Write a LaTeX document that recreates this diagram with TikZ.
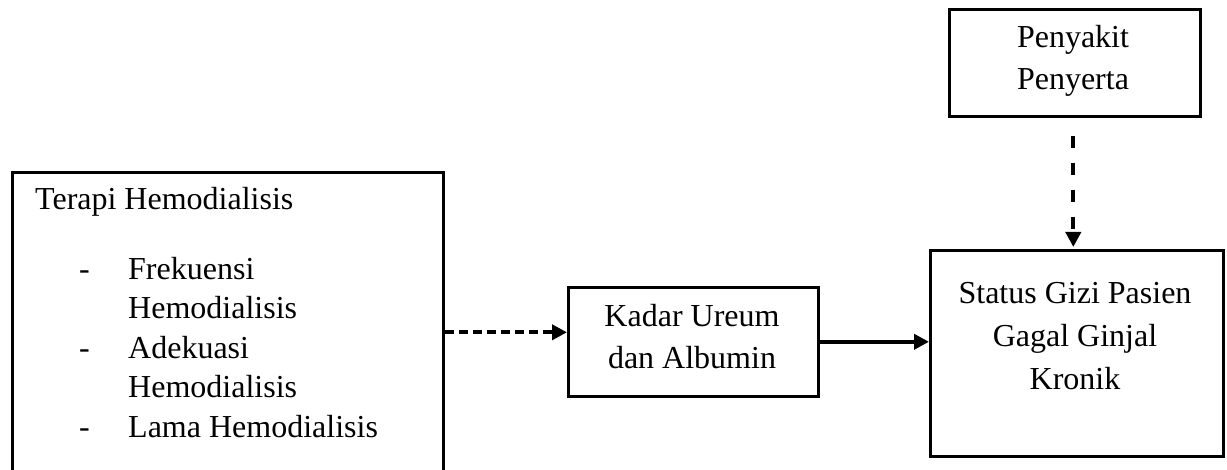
\documentclass[tikz,border=0pt]{standalone}
\usepackage{fontspec}
\setmainfont{Liberation Serif}
\usetikzlibrary{arrows.meta}
\begin{document}
\begin{tikzpicture}[x=1pt,y=-1pt,
  box/.style={draw=black,line width=2.6pt,fill=white,inner sep=0pt,anchor=north west},
  txt/.style={inner sep=0pt,font=\fontsize{32}{42}\selectfont},
  tip/.style={-{Triangle[length=15pt,width=15pt]}},
  solidarrow/.style={tip,line width=4pt},
  dasharrowh/.style={tip,line width=4pt,dash pattern=on 9pt off 5pt},
  dasharrowv/.style={tip,line width=4pt,dash pattern=on 12pt off 15pt}]
\clip (0,0) rectangle (1227,470);
\fill[white] (0,0) rectangle (1227,470);

% boxes
\node[box,minimum width=431pt,minimum height=329pt] (L) at (11,171) {};
\node[box,minimum width=250pt,minimum height=109pt] (M) at (567,286) {};
\node[box,minimum width=293pt,minimum height=206pt] (R) at (929,249) {};
\node[box,minimum width=251pt,minimum height=107pt] (T) at (948,8) {};

% left box text
\node[txt,anchor=base west] (l0) at (35,210) {Terapi Hemodialisis};
\node[txt,anchor=base west] (d1) at (79,280) {-};
\node[txt,anchor=base west] (d2) at (79,359) {-};
\node[txt,anchor=base west] (d3) at (79,438) {-};
\node[txt,anchor=base west] (l1) at (128,280) {Frekuensi};
\node[txt,anchor=base west] (l2) at (128,319) {Hemodialisis};
\node[txt,anchor=base west] (l3) at (128,359) {Adekuasi};
\node[txt,anchor=base west] (l4) at (128,398) {Hemodialisis};
\node[txt,anchor=base west] (l5) at (128,438) {Lama Hemodialisis};

% middle box text
\node[txt,anchor=base] (m1) at (692,327) {Kadar Ureum};
\node[txt,anchor=base] (m2) at (692,369) {dan Albumin};

% right box text
\node[txt,anchor=base] (r1) at (1075,304) {Status Gizi Pasien};
\node[txt,anchor=base] (r2) at (1075,347) {Gagal Ginjal};
\node[txt,anchor=base] (r3) at (1075,389) {Kronik};

% top box text
\node[txt,anchor=base] (t1) at (1073,48) {Penyakit};
\node[txt,anchor=base] (t2) at (1073,90) {Penyerta};

% connectors
\coordinate (ml) at ([yshift=9.5pt]M.west);
\draw[dasharrowh] (L.east |- ml) -- (ml);
\draw[solidarrow] (M.east) -- (R.west |- M.east);
\coordinate (ts) at ([xshift=-1.5pt]T.south);
\draw[dasharrowv,shorten <=18pt,shorten >=2pt] (ts) -- (ts |- R.north);
\end{tikzpicture}
\end{document}
